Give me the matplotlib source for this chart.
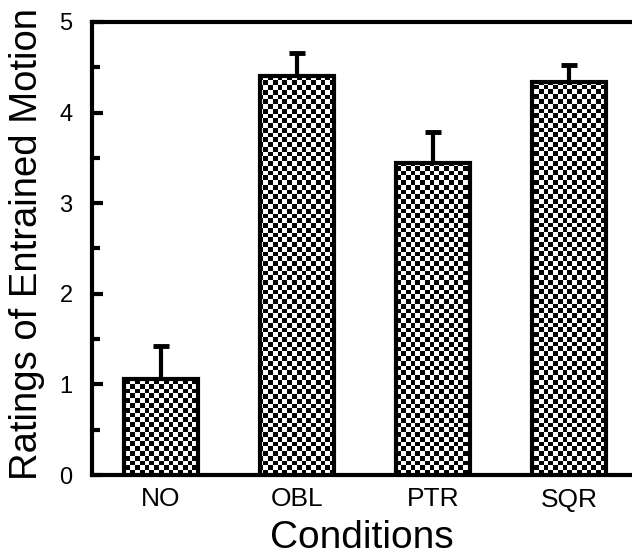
import numpy as np
import matplotlib
matplotlib.use("Agg")
import matplotlib.pyplot as plt
from matplotlib.ticker import MultipleLocator

plt.rcParams['font.family'] = ['Liberation Sans', 'DejaVu Sans']

categories = ["NO", "OBL", "PTR", "SQR"]
means = [1.06, 4.40, 3.44, 4.34]
errors = [0.36, 0.26, 0.35, 0.19]
ytick_vals = [0, 1, 2, 3, 4, 5]

fig = plt.figure(figsize=(6.32, 5.56), dpi=100)
ax = fig.add_axes([92/632, 81/556, 540/632, 453/556])

x = np.arange(len(categories))
width = 0.55

# error bars (upper only)
ax.errorbar(x, means, yerr=[np.zeros(len(errors)), errors], fmt='none',
            ecolor='black', elinewidth=3, capsize=5.5, capthick=3.5, zorder=1)

bars = ax.bar(x, means, width=width, color='white', edgecolor='none', zorder=2)

# checkerboard fill clipped to each bar
axw, axh = 540, 453
cell = 4.75
nx, ny = int(axw / cell), int(axh / cell)
checker = (np.add.outer(np.arange(ny), np.arange(nx)) % 2).astype(float)
for b in bars:
    im = ax.imshow(checker, cmap='gray', vmin=0, vmax=1, interpolation='nearest',
                   extent=[0, nx * cell / axw, 0, ny * cell / axh],
                   transform=ax.transAxes, aspect='auto', zorder=3)
    im.set_clip_path(b)

ax.bar(x, means, width=width, fill=False, edgecolor='black', linewidth=3, zorder=4)

ax.set_xlim(-0.507, 3.463)
ax.set_ylim(0, 5)
ax.set_xticks(x)
ax.set_xticklabels(categories, fontsize=19)
ax.tick_params(axis='x', length=0, pad=9)
ax.set_yticks(ytick_vals)
ax.set_yticklabels([str(v) for v in ytick_vals], fontsize=17)
ax.yaxis.set_minor_locator(MultipleLocator(0.5))
ax.tick_params(axis='y', which='major', direction='in', length=8, width=3, pad=14)
ax.tick_params(axis='y', which='minor', direction='in', length=6, width=3)

for s in ['left', 'bottom', 'top']:
    ax.spines[s].set_linewidth(3)
ax.spines['right'].set_visible(False)

ax.set_ylabel("Ratings of Entrained Motion", fontsize=27.5)
ax.yaxis.set_label_coords(-0.087, 0.51)
ax.set_xlabel("Conditions", fontsize=28)
ax.xaxis.set_label_coords(0.5, -0.100)

fig.savefig("out.png", dpi=100)
